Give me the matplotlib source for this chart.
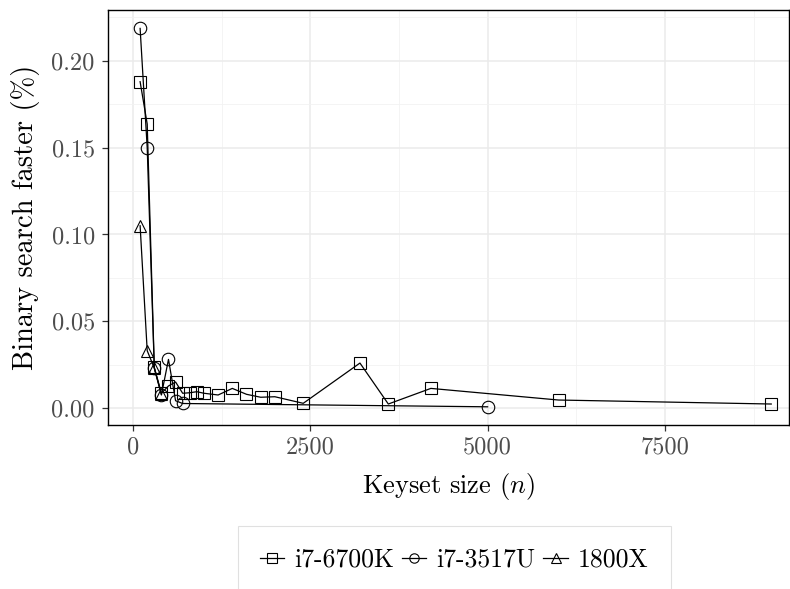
import matplotlib
matplotlib.use('Agg')
import matplotlib.pyplot as plt
from matplotlib.ticker import MultipleLocator

plt.rcParams['font.family'] = 'serif'
plt.rcParams['font.serif'] = ['cmr10']
plt.rcParams['mathtext.fontset'] = 'cm'
plt.rcParams['axes.formatter.use_mathtext'] = True

# keyset size vs fraction by which binary search was faster
n_6700k = [100, 200, 300, 400, 500, 600, 700, 800, 900, 1000, 1200, 1400,
           1600, 1800, 2000, 2400, 3200, 3600, 4200, 6000, 9000]
v_6700k = [0.188, 0.1636, 0.0234, 0.0085, 0.0127, 0.0150, 0.0085, 0.0088,
           0.0094, 0.0085, 0.0075, 0.0113, 0.0079, 0.0062, 0.0065, 0.0027,
           0.0259, 0.0023, 0.0113, 0.0046, 0.0023]

n_3517u = [100, 200, 300, 400, 500, 600, 700, 5000]
v_3517u = [0.2187, 0.150, 0.023, 0.0075, 0.028, 0.0042, 0.0026, 0.0007]

n_1800x = [100, 200, 300, 400]
v_1800x = [0.105, 0.033, 0.023, 0.008]

labels = ['i7-6700K', 'i7-3517U', '1800X']


def main():
    fig = plt.figure(figsize=(7.9, 5.89), dpi=100)
    ax = fig.add_axes([0.1367, 0.2784, 0.862, 0.7046])

    series = [(n_6700k, v_6700k, 's'), (n_3517u, v_3517u, 'o'), (n_1800x, v_1800x, '^')]
    for (xs, ys, m), lab in zip(series, labels):
        ax.plot(xs, ys, color='black', lw=0.9, marker=m, markersize=9,
                markerfacecolor='none', markeredgecolor='black',
                markeredgewidth=0.8, label=lab)

    ax.set_xlim(-353, 9250)
    ax.set_ylim(-0.0098, 0.2293)
    ax.xaxis.set_major_locator(MultipleLocator(2500))
    ax.xaxis.set_minor_locator(MultipleLocator(1250))
    ax.yaxis.set_major_locator(MultipleLocator(0.05))
    ax.yaxis.set_minor_locator(MultipleLocator(0.025))
    ax.yaxis.set_major_formatter(plt.FuncFormatter(lambda v, p: f'{v:.2f}'))
    ax.xaxis.set_major_formatter(plt.FuncFormatter(lambda v, p: f'{v:.0f}'))

    ax.grid(which='major', color='#ebebeb', lw=1.1)
    ax.grid(which='minor', color='#f2f2f2', lw=0.6)
    ax.set_axisbelow(True)
    ax.tick_params(which='major', direction='out', length=4.5, width=0.9,
                   color='#333333', labelcolor='#4d4d4d', labelsize=17.5)
    ax.tick_params(axis='y', pad=5)
    ax.tick_params(which='minor', length=0)
    for s in ax.spines.values():
        s.set_color('black')
        s.set_linewidth(1.0)

    ax.set_xlabel('Keyset size ($n$)', fontsize=19, labelpad=9)
    ax.set_ylabel('Binary search faster (%)', fontsize=20.5, labelpad=8)

    leg = fig.legend(loc='upper center', bbox_to_anchor=(0.575, 1 - 526 / 589),
                     ncol=3, fontsize=18.5, frameon=True, fancybox=False,
                     handlelength=0.95, handletextpad=0.4, columnspacing=0.3,
                     borderpad=0.85, borderaxespad=0, markerscale=0.75)
    leg.get_frame().set_edgecolor('#d9d9d9')
    leg.get_frame().set_linewidth(0.8)

    fig.savefig('out.png', dpi=100)


if __name__ == '__main__':
    main()
